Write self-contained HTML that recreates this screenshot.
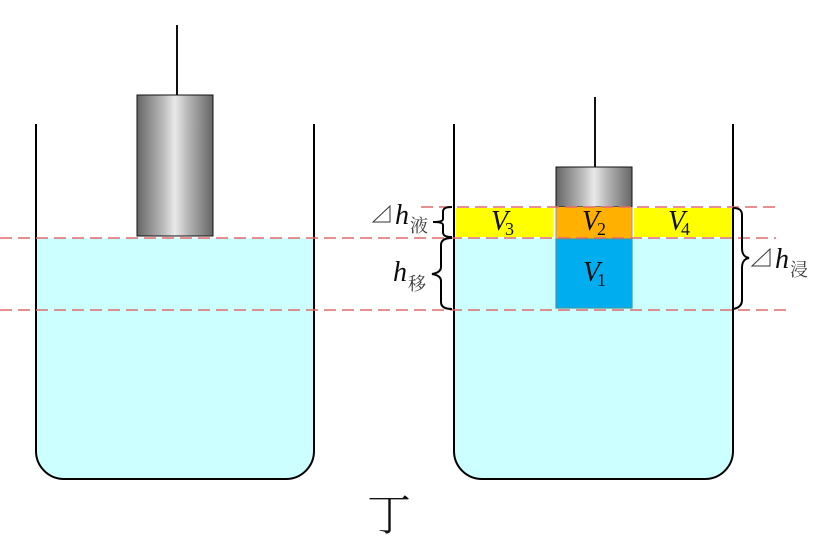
<!DOCTYPE html>
<html><head><meta charset="utf-8"><style>
html,body{margin:0;padding:0;background:#fff;width:834px;height:560px;overflow:hidden}
svg{display:block}
.m{font-family:"Liberation Serif",serif;font-style:italic;fill:#0c0c0c;font-size:28px}
.s{font-family:"Liberation Serif",serif;fill:#111;font-size:18px}
.c{font-family:"Liberation Serif","Noto Serif CJK SC",serif;fill:#3a3a3a;font-size:18px}
</style></head><body>
<svg width="834" height="560" viewBox="0 0 834 560" xmlns="http://www.w3.org/2000/svg">
<defs>
<linearGradient id="g"><stop offset="0" stop-color="#666"/><stop offset=".32" stop-color="#b4b4b4"/><stop offset=".5" stop-color="#e9e9e9"/><stop offset=".68" stop-color="#b4b4b4"/><stop offset="1" stop-color="#666"/></linearGradient>
</defs>
<!-- water -->
<path d="M36 238H314V451a28 28 0 0 1-28 28H64a28 28 0 0 1-28-28Z" fill="#ccffff"/>
<path d="M454 238H733V451a28 28 0 0 1-28 28H482a28 28 0 0 1-28-28Z" fill="#ccffff"/>
<!-- left cylinder -->
<path d="M177 25V95" stroke="#111" stroke-width="2" fill="none"/>
<rect x="137" y="95" width="76" height="141" fill="url(#g)" stroke="#111" stroke-width="1"/>
<!-- right layers -->
<path d="M595 97V167" stroke="#111" stroke-width="2" fill="none"/>
<rect x="556" y="167" width="76" height="40" fill="url(#g)" stroke="#111" stroke-width="1"/>
<rect x="456" y="208" width="97" height="29" fill="#ffff00"/>
<rect x="634" y="208" width="98" height="29" fill="#ffff00"/>
<rect x="556" y="207" width="76" height="32" fill="#ffb000"/>
<rect x="556" y="239" width="76" height="69" fill="#00adef" stroke="#3a9aa8" stroke-width="1.2"/>
<path d="M556 207V239M632 207V239" stroke="#999" stroke-width="1"/>
<!-- beaker outlines -->
<path d="M36 124V451a28 28 0 0 0 28 28H286a28 28 0 0 0 28-28V124" fill="none" stroke="#000" stroke-width="2"/>
<path d="M454 124V451a28 28 0 0 0 28 28H705a28 28 0 0 0 28-28V124" fill="none" stroke="#000" stroke-width="2"/>
<!-- dashed -->
<g stroke="#e06a6a" stroke-width="1.5" stroke-dasharray="12 6" fill="none">
<path d="M421 207H776"/>
<path d="M0 238H776"/>
<path d="M0 310H786"/>
</g>
<!-- braces -->
<g fill="none" stroke="#000" stroke-width="2">
<path d="M452 207c-6 0-9 1-9 5v7c0 2-3 3-10 3 7 0 10 1 10 3v7c0 4 3 5 9 5"/>
<path d="M452 238c-7 0-11 2-11 7v22c0 4-3 6-9 7 6 1 9 3 9 7v21c0 5 4 7 11 7"/>
<path d="M733 208c6 0 9 2 9 7v33c0 6 2 9 7 10-5 1-7 4-7 10v32c0 5-3 8-9 9"/>
</g>
<!-- labels -->
<text class="m" x="491" y="230" textLength="17" lengthAdjust="spacingAndGlyphs">V</text><text class="s" x="505" y="235">3</text>
<text class="m" x="582" y="230" textLength="17" lengthAdjust="spacingAndGlyphs">V</text><text class="s" x="597" y="235">2</text>
<text class="m" x="668" y="230" textLength="17" lengthAdjust="spacingAndGlyphs">V</text><text class="s" x="681" y="235">4</text>
<text class="m" x="583" y="281" textLength="17" lengthAdjust="spacingAndGlyphs">V</text><text class="s" x="597" y="286">1</text>
<path d="M373 222L390 206V222Z" fill="none" stroke="#333" stroke-width="1"/>
<text class="m" x="395" y="224">h</text><text class="c" x="410" y="232">液</text>
<text class="m" x="393" y="281">h</text><text class="c" x="408" y="290">移</text>
<path d="M752 266L770 249V266Z" fill="none" stroke="#333" stroke-width="1"/>
<text class="m" x="775" y="268">h</text><text class="c" x="790" y="276">浸</text>
<text x="367" y="530" font-size="44" style="font-family:'Noto Serif CJK SC',serif;font-weight:300" fill="#111">丁</text>
</svg>
</body></html>
